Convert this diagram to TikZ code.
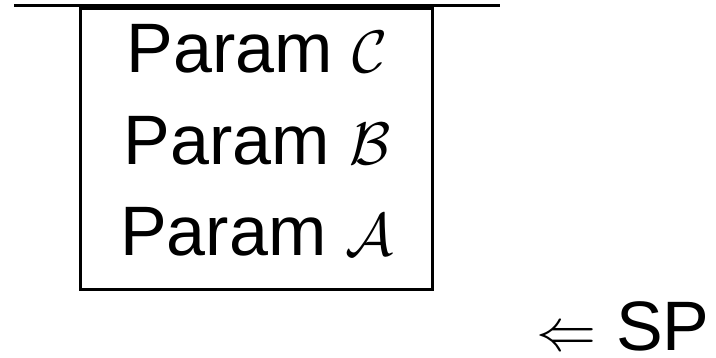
\RequirePackage{fix-cm}
\documentclass[tikz,border=0pt]{standalone}
\usepackage{fontspec}
\setmainfont{Liberation Sans}
\newcommand{\smallmath}[1]{{\fontsize{30}{36}\selectfont$#1$}}
\begin{document}
\begin{tikzpicture}[x=1pt, y=1pt, line width=1.5pt,
      stack/.style={draw, minimum width=176pt, minimum height=140.5pt, inner sep=0pt},
      param/.style={font=\fontsize{35}{42}\selectfont, inner sep=0pt},
      note/.style={font=\fontsize{35}{42}\selectfont, inner sep=0pt}]
    \useasboundingbox (0,0) rectangle (358,-179);
    \coordinate (tl) at (7,-3);
    \coordinate (tr) at (250,-3);
    \node[stack, anchor=north] (box) at (128,-3.5) {};
    \node[param, anchor=base] (pc) at (128.5,-36.5) {Param \smallmath{\mathcal{C}}};
    \node[param, anchor=base] (pb) at (128.5,-82)   {Param \smallmath{\mathcal{B}}};
    \node[param, anchor=base] (pa) at (128.5,-127.5) {Param \smallmath{\mathcal{A}}};
    \node[note, anchor=base east] (sp) at (355.5,-175) {\smallmath{\Leftarrow} SP};
    \draw (tl) -- (tr);
  \end{tikzpicture}
\end{document}
